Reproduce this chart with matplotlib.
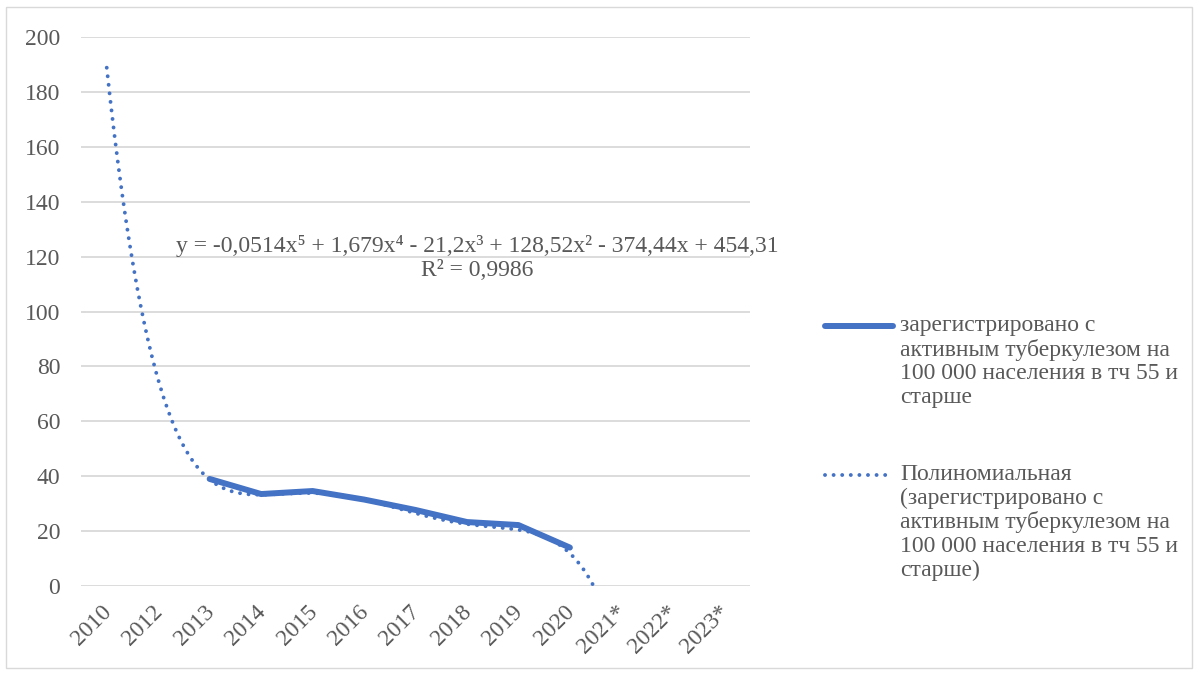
import numpy as np
import matplotlib
matplotlib.use("Agg")
import matplotlib.pyplot as plt
import matplotlib.transforms as mtransforms
from matplotlib.lines import Line2D
from matplotlib.patches import Rectangle

categories = ['2010', '2012', '2013', '2014', '2015', '2016', '2017', '2018',
              '2019', '2020', '2021*', '2022*', '2023*']
values = [None, None, 39.0, 33.5, 34.6, 31.5, 27.7, 23.3, 22.2, 14.0, None, None, None]
# displayed trendline coefficients (highest power first)
trend_coefs = [-0.0514, 1.679, -21.2, 128.52, -374.44, 454.31]
trend_label = "y = -0,0514x⁵ + 1,679x⁴ - 21,2x³ + 128,52x² - 374,44x + 454,31\nR² = 0,9986"
yticks = [0, 20, 40, 60, 80, 100, 120, 140, 160, 180, 200]
series_label = "зарегистрировано с\nактивным туберкулезом на\n100 000 населения в тч 55 и\nстарше"
trend_legend = "Полиномиальная\n(зарегистрировано с\nактивным туберкулезом на\n100 000 населения в тч 55 и\nстарше)"

plt.rcParams['font.family'] = ['Liberation Serif', 'DejaVu Serif']
TXT = '#595959'
BLUE = '#4472C4'
FS = 17
DOT = (0, (0.01, 2.2))

fig = plt.figure(figsize=(11.99, 6.75), dpi=100)
fig.patches.append(Rectangle((6/1199, 7/675), 1186/1199, 661/675, transform=fig.transFigure,
                             fill=False, edgecolor='#D9D9D9', lw=1.0))
ax = fig.add_axes([81/1199, 1-586/675, 669/1199, 549/675])

x = np.arange(1, len(categories)+1)
xs = [xi for xi, v in zip(x, values) if v is not None]
ys = [v for v in values if v is not None]

# trendline
xt = np.linspace(1, 10.8, 400)
yt = np.polyval(trend_coefs, xt)
ax.plot(xt, yt, color=BLUE, lw=2.8, linestyle=DOT, dash_capstyle='round', zorder=3)
ax.plot(xs, ys, color=BLUE, lw=4.3, solid_capstyle='round', solid_joinstyle='round', zorder=4)

ax.set_xlim(0.5, len(categories)+0.5)
ax.set_ylim(0, 200)
ax.set_yticks(yticks)
ax.set_xticks(x)
ax.set_xticklabels(categories, rotation=45, ha='right', rotation_mode='anchor')
ax.tick_params(axis='both', length=0, labelsize=FS, labelcolor=TXT)
ax.tick_params(axis='y', pad=15)
ax.tick_params(axis='x', pad=8)
off = mtransforms.ScaledTranslation(-6/100, -4/100, fig.dpi_scale_trans)
for lab in ax.get_xticklabels():
    lab.set_transform(lab.get_transform() + off)
ax.grid(axis='y', color='#D9D9D9', lw=1.3)
ax.set_axisbelow(True)
for s in ax.spines.values():
    s.set_visible(False)

fig.text(477/1199, 1-258/675, trend_label, ha='center', va='center', fontsize=FS,
         color=TXT, linespacing=1.15)

# legend (manual)
fig.add_artist(Line2D([825/1199, 893/1199], [1-326/675]*2, color=BLUE, lw=4.3,
                      solid_capstyle='round', transform=fig.transFigure))
fig.text(900/1199, 1-315/675, series_label, ha='left', va='top', fontsize=FS, color=TXT,
         linespacing=1.16)
fig.add_artist(Line2D([825/1199, 893/1199], [1-475/675]*2, color=BLUE, lw=2.8,
                      linestyle=DOT, dash_capstyle='round', transform=fig.transFigure))
fig.text(900/1199, 1-464/675, trend_legend, ha='left', va='top', fontsize=FS, color=TXT,
         linespacing=1.16)

fig.savefig('out.png', dpi=100)
